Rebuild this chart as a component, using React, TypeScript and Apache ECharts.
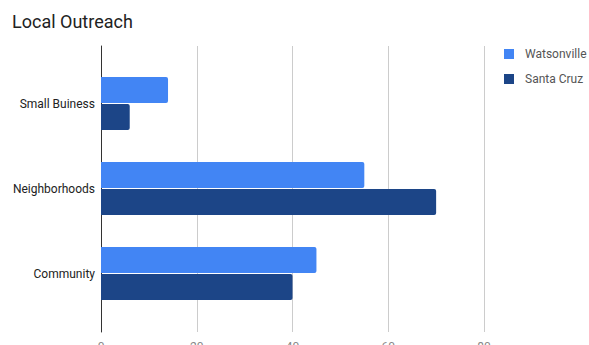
import React, { useEffect, useRef } from "react";
import * as echarts from "echarts";

const categories = ["Small Buiness", "Neighborhoods", "Community"];
const watsonville = [14, 55, 45];
const santaCruz = [6, 70, 40];
const seriesNames = ["Watsonville", "Santa Cruz"];
const xTicks = [0, 20, 40, 60, 80];

export default function App() {
  const ref = useRef<HTMLDivElement>(null);
  useEffect(() => {
    if (!ref.current) return;
    const chart = echarts.init(ref.current, null, { renderer: "svg" });
    const font = "Roboto, sans-serif";
    chart.setOption({
      animation: false,
      backgroundColor: "#ffffff",
      title: {
        text: "Local Outreach",
        left: 7,
        top: 7,
        padding: 5,
        textStyle: { fontFamily: font, fontSize: 18, fontWeight: "normal", color: "#222222" },
      },
      legend: {
        orient: "vertical",
        left: 499,
        top: 43,
        icon: "rect",
        itemWidth: 10,
        itemHeight: 10,
        itemGap: 13,
        data: seriesNames,
        textStyle: { fontFamily: font, fontSize: 12, color: "#555555", padding: [0, 0, 0, 6] },
      },
      grid: [
        { left: 101, right: 105, top: 46, height: 286, outerBoundsMode: "none", containLabel: false },
        { left: 101, right: 105, top: 61, height: 255, outerBoundsMode: "none", containLabel: false },
      ],
      xAxis: [
        {
          type: "value",
          gridIndex: 0,
          min: xTicks[0],
          max: xTicks[xTicks.length - 1],
          interval: 20,
          axisLine: { show: false },
          axisTick: { show: false },
          splitLine: { show: true, lineStyle: { color: "#cccccc", width: 1 } },
          axisLabel: { fontFamily: font, fontSize: 12, color: "#888888", margin: 9 },
        },
        {
          type: "value",
          gridIndex: 1,
          min: xTicks[0],
          max: xTicks[xTicks.length - 1],
          show: false,
        },
      ],
      yAxis: [
        {
          type: "value",
          gridIndex: 0,
          axisLine: { show: true, onZero: false, lineStyle: { color: "#333333", width: 1 } },
          axisTick: { show: false },
          axisLabel: { show: false },
          splitLine: { show: false },
        },
        {
          type: "category",
          gridIndex: 1,
          inverse: true,
          data: categories,
          axisLine: { show: false },
          axisTick: { show: false },
          axisLabel: { fontFamily: font, fontSize: 12, color: "#222222", margin: 6 },
        },
      ],
      series: [
        {
          name: seriesNames[0],
          type: "bar",
          xAxisIndex: 1,
          yAxisIndex: 1,
          data: watsonville,
          barWidth: 26,
          barGap: "4%",
          itemStyle: { color: "#4285f4", borderRadius: [0, 2, 2, 0] },
        },
        {
          name: seriesNames[1],
          type: "bar",
          xAxisIndex: 1,
          yAxisIndex: 1,
          data: santaCruz,
          barWidth: 26,
          barGap: "4%",
          itemStyle: { color: "#1c4587", borderRadius: [0, 2, 2, 0] },
        },
      ],
    });
    return () => chart.dispose();
  }, []);
  return <div ref={ref} style={{ width: 589, height: 345, position: "absolute", left: 0, top: 0 }} />;
}
